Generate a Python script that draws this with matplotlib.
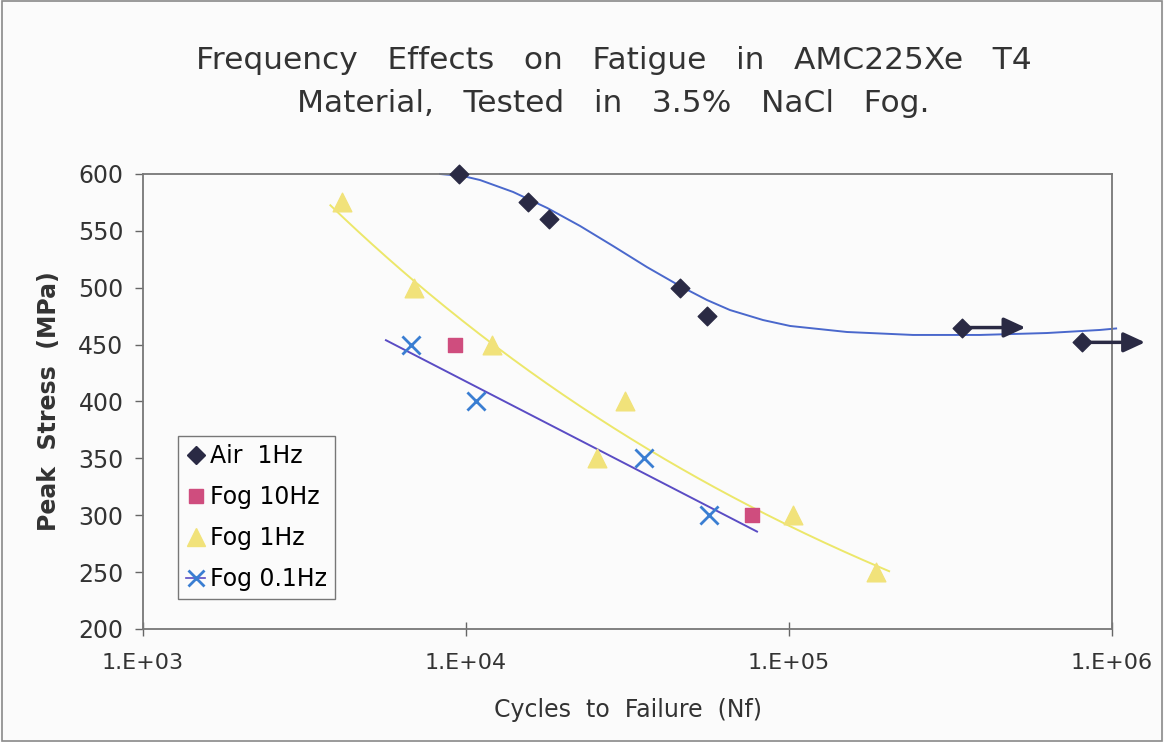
import numpy as np
import matplotlib.pyplot as plt
from matplotlib.patches import Rectangle

# S-N data (cycles, MPa)
air_n = [9500, 15600, 18100, 46000, 55700, 344000, 807000]
air_s = [600, 575, 560, 500, 475, 465, 452]
runout_n = [344000, 807000]   # tests stopped without failure
runout_s = [465, 452]

# Air trendline as drawn in the original
air_fit_n = [8310, 9790, 11050, 13990, 17820, 22550, 28530, 36310, 45990, 55740,
             65660, 83140, 100800, 151200, 242100, 390200, 629300, 918500, 1030000]
air_fit_s = [600, 598.2, 594.7, 584.2, 570.2, 554.3, 536.7, 518.2, 501.5, 489.2,
             480.4, 471.6, 466.4, 461.1, 458.5, 458.5, 460.2, 462.9, 464.2]

fog10_n = [9250, 76700]
fog10_s = [450, 300]

fog1_n = [4130, 6900, 12000, 25500, 31000, 102800, 186000]
fog1_s = [575, 500, 450, 350, 400, 300, 250]

fog01_n = [6760, 10700, 35600, 56500]
fog01_s = [450, 400, 350, 300]

y_ticks = [200, 250, 300, 350, 400, 450, 500, 550, 600]
x_ticks = [1e3, 1e4, 1e5, 1e6]
x_labels = ['1.E+03', '1.E+04', '1.E+05', '1.E+06']

fig = plt.figure(figsize=(11.64, 7.42), dpi=100)
fig.patch.set_facecolor('#fbfbfb')
fig.add_artist(Rectangle((0.002, 0.002), 0.996, 0.996, transform=fig.transFigure,
                         fill=False, edgecolor='#8a8a8a', lw=1.2))
ax = fig.add_axes([0.1229, 0.1523, 0.8324, 0.6132])
ax.set_facecolor('#fbfbfb')

ax.plot(air_fit_n, air_fit_s, color='#4a68cc', lw=1.4, zorder=2, clip_on=False)

# Fog 1Hz: power law trendline
b, a = np.polyfit(np.log10(fog1_n), np.log10(fog1_s), 1)
xx = np.logspace(3.58, 5.31, 200)
ax.plot(xx, 10**a * xx**b, color='#ece76a', lw=1.4, zorder=2)

# Fog 0.1Hz: logarithmic trendline
b, a = np.polyfit(np.log10(fog01_n), fog01_s, 1)
xx = np.logspace(3.752, 4.901, 50)
ax.plot(xx, a + b * np.log10(xx), color='#5a4cc4', lw=1.4, zorder=2)

ax.scatter(air_n, air_s, marker='D', s=90, color='#2a2a44', zorder=4, clip_on=False)
ax.scatter(fog10_n, fog10_s, marker='s', s=110, color='#cf4d7e', zorder=4)
ax.scatter(fog1_n, fog1_s, marker='^', s=180, color='#f1e27a', zorder=3)
ax.scatter(fog01_n, fog01_s, marker='x', s=170, color='#3a7ed2', linewidths=2, zorder=4)

for n, s in zip(runout_n, runout_s):
    ax.annotate('', xy=(n * 1.6, s), xytext=(n, s),
                arrowprops=dict(arrowstyle='-|>,head_length=1.3,head_width=0.6',
                                color='#2a2a44', lw=2.5),
                annotation_clip=False, zorder=5)

# legend handles
h1 = plt.Line2D([], [], marker='D', ls='none', color='#2a2a44', ms=9)
h2 = plt.Line2D([], [], marker='s', ls='none', color='#cf4d7e', ms=10)
h3 = plt.Line2D([], [], marker='^', ls='none', color='#f1e27a', ms=13)
h4 = plt.Line2D([], [], marker='x', color='#5a4cc4', mec='#3a7ed2', ms=12, mew=2,
                ls='-', lw=1.2)
leg = ax.legend([h1, h2, h3, h4], ['Air  1Hz', 'Fog 10Hz', 'Fog 1Hz', 'Fog 0.1Hz'],
                loc='lower left', bbox_to_anchor=(0.036, 0.065), fontsize=17,
                handlelength=0.8, handletextpad=0.2, borderpad=0.35,
                labelspacing=0.72, frameon=True, fancybox=False,
                edgecolor='#777777', framealpha=1, borderaxespad=0)
leg.get_frame().set_facecolor('#fbfbfb')
leg.get_frame().set_linewidth(1.0)

ax.set_xscale('log')
ax.set_xlim(1e3, 1e6)
ax.set_ylim(200, 600)
ax.set_xticks(x_ticks)
ax.set_xticklabels(x_labels)
ax.minorticks_off()
ax.set_yticks(y_ticks)
ax.tick_params(axis='x', direction='inout', length=10, width=1, colors='#666666',
               labelcolor='#333333', labelsize=16, pad=12)
ax.tick_params(axis='y', direction='out', length=6, width=1, colors='#666666',
               labelcolor='#333333', labelsize=17, pad=8)
for sp in ax.spines.values():
    sp.set_color('#777777')
    sp.set_linewidth(1.3)

ax.set_xlabel('Cycles  to  Failure  (Nf)', fontsize=17, color='#333333', labelpad=18)
ax.set_ylabel('Peak  Stress  (MPa)', fontsize=17, fontweight='bold', color='#333333',
              labelpad=12)
fig.text(0.527, 0.918, 'Frequency   Effects   on   Fatigue   in   AMC225Xe   T4',
         ha='center', va='center', fontsize=22.5, color='#333333')
fig.text(0.527, 0.860, 'Material,   Tested   in   3.5%   NaCl   Fog.',
         ha='center', va='center', fontsize=22.5, color='#333333')

fig.savefig('out.png', dpi=100, facecolor=fig.get_facecolor())
